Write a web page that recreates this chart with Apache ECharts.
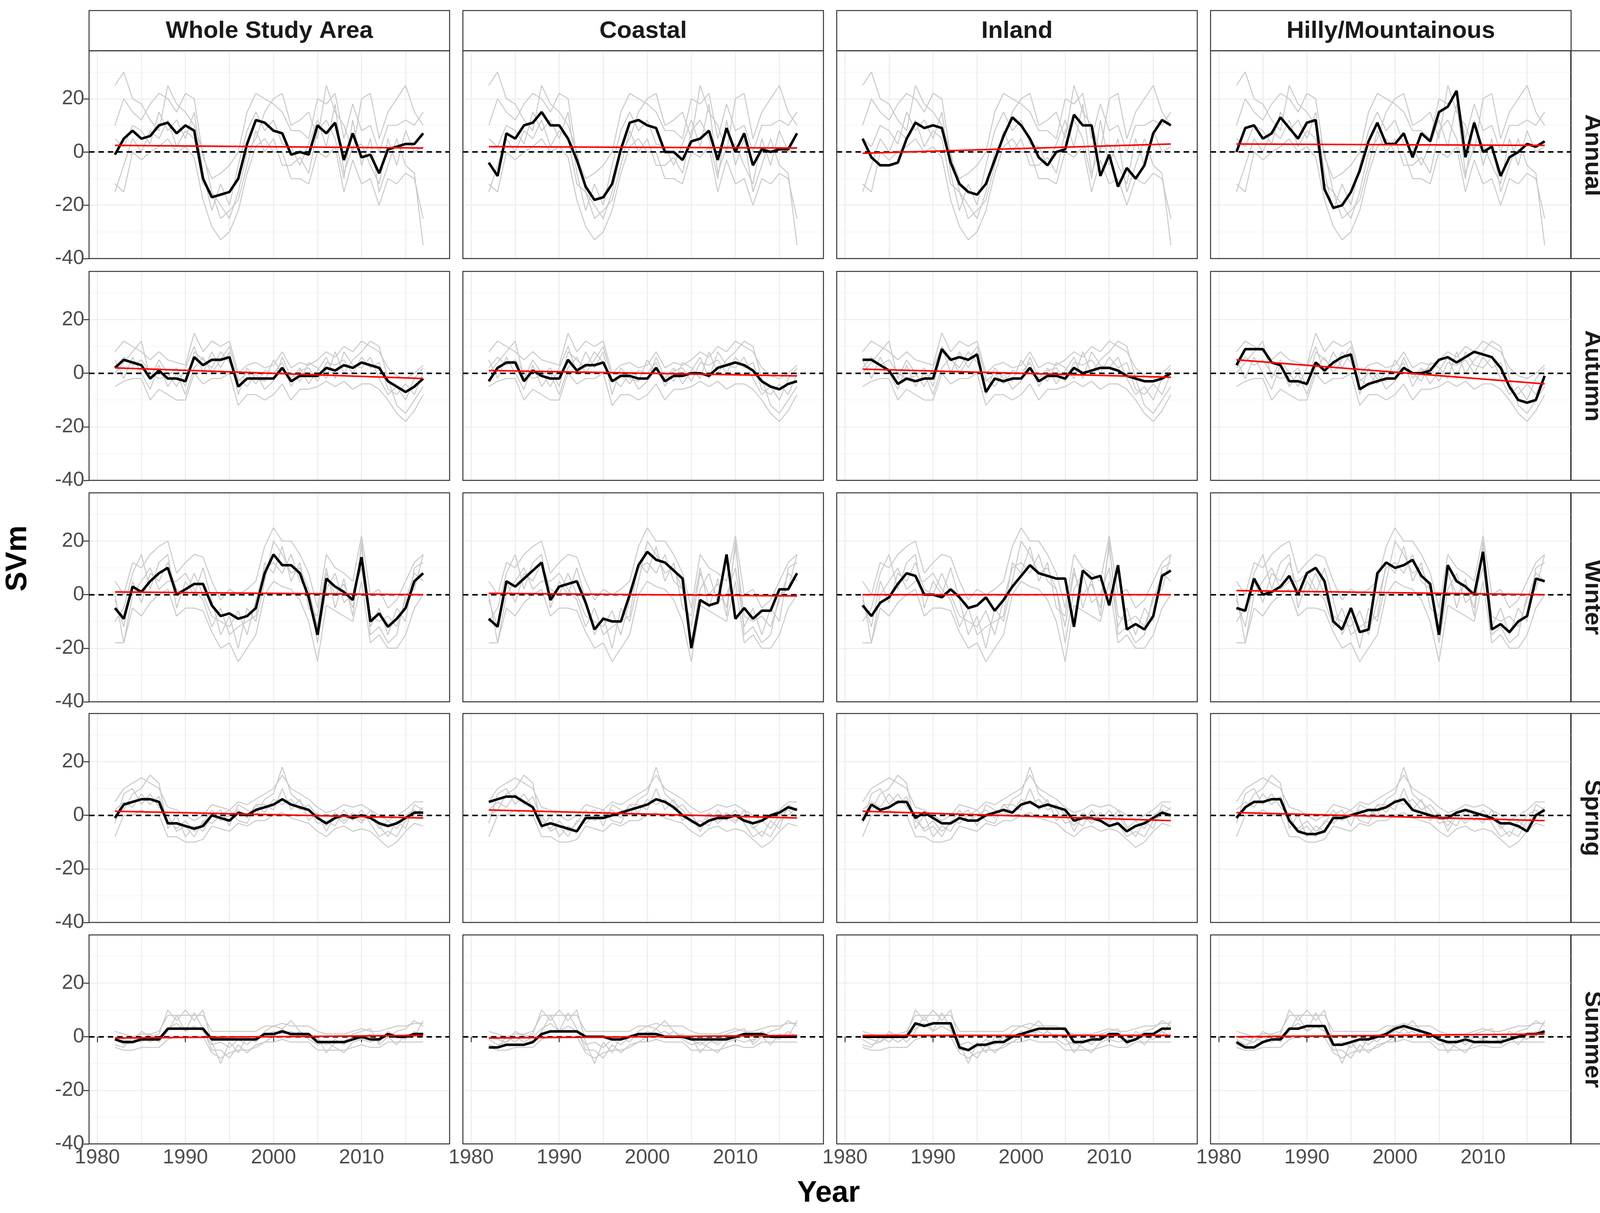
<!DOCTYPE html>
<html><head><meta charset="utf-8">
<script src="https://cdn.jsdelivr.net/npm/echarts@6/dist/echarts.min.js"></script>
<style>html,body{margin:0;padding:0;background:#fff}#c{width:4157px;height:3106px}</style>
</head><body><div id="c"></div>
<script>
const years=[];for(let y=1982;y<=2017;y++)years.push(y);
const columns=["Whole Study Area","Coastal","Inland","Hilly/Mountainous"];
const seasons=["Annual","Autumn","Winter","Spring","Summer"];
const yTicks=[-40,-20,0,20];
const xTicks=[1980,1990,2000,2010];
const xMinor=[1985,1995,2005,2015];
const meanAnnual=[
[-1,5,8,5,6,10,11,7,10,8,-10,-17,-16,-15,-10,3,12,11,8,7,-1,0,-1,10,7,11,-3,7,-2,-1,-8,1,2,3,3,7],
[-4,-9,7,5,10,11,15,10,10,5,-3,-13,-18,-17,-12,1,11,12,10,9,0,0,-3,4,5,8,-3,9,0,7,-5,1,0,1,1,7],
[5,-2,-5,-5,-4,5,11,9,10,9,-4,-12,-15,-16,-12,-3,6,13,10,5,-2,-5,0,1,14,10,10,-9,-1,-13,-6,-10,-5,7,12,10],
[0,9,10,5,7,13,9,5,11,12,-14,-21,-20,-15,-7,4,11,3,3,7,-2,7,4,15,17,23,-2,11,0,2,-9,-2,0,3,2,4]];
const meanAutumn=[
[2,5,4,3,-2,1,-2,-2,-3,6,3,5,5,6,-5,-2,-2,-2,-2,2,-3,-1,-1,-1,2,1,3,2,4,3,2,-3,-5,-7,-5,-2],
[-3,2,4,4,-3,1,-1,-2,-2,5,1,3,3,4,-3,-1,-1,-2,-2,2,-3,-1,-1,0,0,-1,2,3,4,3,1,-3,-5,-6,-4,-3],
[5,5,3,1,-4,-2,-3,-2,-2,9,5,6,5,7,-7,-2,-3,-2,-2,2,-3,-1,-1,-2,2,0,1,2,2,1,-1,-2,-3,-3,-2,0],
[3,9,9,9,4,3,-3,-3,-4,4,1,4,6,7,-6,-4,-3,-2,-2,2,0,0,1,5,6,4,6,8,7,6,2,-5,-10,-11,-10,-1]];
const meanWinter=[
[-5,-9,3,1,5,8,10,0,2,4,4,-4,-8,-7,-9,-8,-5,8,15,11,11,8,-1,-15,6,3,1,-2,14,-10,-7,-12,-9,-5,5,8],
[-9,-12,5,3,6,9,12,-2,3,4,5,-3,-13,-9,-10,-10,0,11,16,13,12,9,6,-20,-2,-4,-3,15,-9,-5,-9,-6,-6,2,2,8],
[-4,-8,-3,-1,4,8,7,0,0,-1,2,-1,-5,-4,-1,-6,-2,3,7,11,8,7,6,6,-12,9,6,7,-4,11,-13,-11,-13,-8,7,9],
[-5,-6,6,0,1,3,7,0,8,10,5,-10,-13,-5,-14,-13,8,12,10,11,13,7,4,-15,11,5,3,0,16,-13,-11,-14,-10,-8,6,5]];
const meanSpring=[
[-1,4,5,6,6,5,-3,-3,-4,-5,-4,0,-1,-2,1,0,2,3,4,6,4,3,2,-1,-3,-1,0,-1,0,-1,-3,-4,-3,-1,1,1],
[5,6,7,7,5,3,-4,-3,-4,-5,-6,-1,-1,-1,0,1,2,3,4,6,5,3,0,-2,-4,-2,-1,-1,0,-2,-3,-2,0,1,3,2],
[-2,4,2,3,5,5,-1,1,-1,-3,-3,-1,-2,-2,0,1,2,1,4,5,3,4,3,2,-2,-1,-1,-2,-4,-3,-6,-4,-3,-1,1,0],
[-1,3,5,5,6,6,-2,-6,-7,-7,-6,-1,-1,0,1,2,2,3,5,6,2,1,0,-1,-1,1,2,1,0,-1,-3,-3,-4,-6,0,2]];
const meanSummer=[
[-1,-2,-2,-1,-1,-1,3,3,3,3,3,-1,-1,-1,-1,-1,-1,1,1,2,1,1,1,-2,-2,-2,-2,-1,0,-1,-1,1,0,0,1,1],
[-4,-4,-3,-3,-3,-2,1,2,2,2,2,0,0,0,-1,-1,0,1,1,1,0,0,0,-1,-1,-1,-1,-1,0,1,1,1,0,0,0,0],
[0,0,0,0,0,0,5,4,5,5,5,-4,-5,-3,-3,-2,-2,0,1,2,3,3,3,3,-2,-2,-1,-1,1,1,-2,-1,1,1,3,3],
[-2,-4,-4,-2,-1,-1,3,3,4,4,4,-3,-3,-2,-1,-1,0,1,3,4,3,2,1,-1,-2,-2,-1,-2,-2,-2,-2,-1,0,1,1,2]];
const means=[meanAnnual,meanAutumn,meanWinter,meanSpring,meanSummer];
const trendStart=[[2.5,2,-0.5,3],[2,1,1.5,5],[1,0.5,0,1.5],[1.5,2,1.5,1],[-0.5,-0.5,0.5,0]];
const trendEnd=[[1.5,1.5,3,2.5],[-2,-1,-1.5,-4],[0,-0.5,0,0],[-1,-1,-2,-2],[0.5,0.5,0.5,1]];
const greyAnnual=[
[10,20,15,12,18,22,20,15,22,20,-2,-10,-8,-5,0,15,22,20,18,15,8,8,5,20,18,22,5,18,8,10,0,10,10,12,10,15],
[-12,-15,0,-3,0,2,5,0,2,-2,-18,-28,-33,-30,-22,-8,2,5,0,0,-10,-10,-12,0,-2,2,-15,-3,-12,-10,-20,-10,-12,-8,-10,-25],
[5,2,10,8,3,15,8,12,5,15,-8,-22,-12,-20,-5,8,15,8,12,3,2,-5,3,12,2,18,-8,2,3,-5,-12,5,-5,8,0,2],
[25,30,20,18,12,8,25,18,15,10,0,-15,-20,-25,-15,0,5,15,20,22,10,12,15,5,25,15,10,0,20,22,5,15,20,25,15,10],
[-15,-5,5,0,8,5,12,2,8,5,-12,-15,-25,-22,-18,-5,8,0,5,-5,-5,-2,-8,8,12,5,-10,12,-5,5,-15,-5,5,-5,-8,-35]];
const greyAutumn=[
[8,12,10,8,5,8,5,4,3,15,8,12,10,12,0,3,4,2,3,8,2,4,3,5,8,6,10,8,12,10,8,2,-1,-2,0,3],
[-5,-3,-2,-2,-10,-6,-8,-10,-10,0,-4,-2,-2,0,-12,-8,-8,-10,-8,-4,-10,-6,-6,-5,-3,-5,-3,-6,-4,-4,-6,-10,-15,-18,-14,-8],
[2,6,3,5,0,-2,-1,2,-5,8,5,2,8,4,-3,0,-4,1,0,4,-5,1,2,-3,4,3,5,0,6,2,4,-6,-8,-4,-8,0],
[0,4,8,12,-2,5,0,-5,2,10,0,8,2,8,-8,2,-2,-3,5,0,0,-3,4,2,-2,8,0,5,8,12,10,-2,-12,-15,-10,-5],
[5,-2,6,0,-6,3,-5,0,-8,2,6,0,5,10,-2,-5,0,-6,-3,6,-2,2,-4,1,6,-2,8,3,2,6,-2,-8,-5,-10,-2,2]];
const greyWinter=[
[5,0,12,10,15,18,20,8,12,15,14,5,-2,2,0,2,5,18,25,20,20,15,8,-5,15,10,8,5,22,0,2,-5,-2,5,12,15],
[-18,-18,-5,-8,-3,0,2,-8,-5,-5,-6,-14,-20,-18,-25,-20,-15,0,5,3,2,-2,-10,-25,-4,-6,-8,-10,5,-18,-15,-20,-20,-15,-5,0],
[-2,-12,5,-3,8,5,12,2,0,8,0,-8,-10,-12,-6,-15,-2,10,12,8,15,5,2,-12,8,0,4,-5,18,-8,-10,-8,-12,-2,8,5],
[-10,-5,8,15,2,12,15,-5,5,0,10,-2,-15,-8,-20,-5,-10,5,20,15,8,10,2,-18,2,8,-3,0,10,-12,-5,-15,-5,-10,10,12],
[0,-18,0,5,10,2,5,5,8,2,-2,-12,-5,-15,-12,-10,-8,12,8,18,5,12,-5,-8,10,-5,6,-8,20,-15,-12,-18,-15,0,2,15]];
const greySpring=[
[5,10,12,14,12,10,3,2,0,-2,0,4,3,2,5,4,6,8,10,15,10,8,6,3,1,2,4,3,4,2,0,-2,0,2,5,5],
[-8,0,0,2,0,0,-8,-8,-10,-10,-9,-4,-5,-6,-3,-4,-2,-2,0,1,-1,-2,-3,-6,-8,-5,-4,-6,-5,-6,-9,-12,-10,-6,-3,-4],
[2,5,3,8,4,7,-2,-5,-2,-6,-3,2,-2,0,2,-1,4,1,6,4,6,2,4,0,-4,1,-2,1,-2,0,-5,-2,-5,0,2,-1],
[0,2,8,10,15,12,-5,0,-8,-4,-6,0,2,-4,4,2,0,6,8,18,8,5,2,-3,-2,-4,2,-2,2,-3,-8,-6,-8,-2,0,3],
[-3,8,10,4,8,3,0,-6,-4,-8,-2,-3,0,2,-2,-3,4,4,2,10,2,6,-2,1,-6,0,-3,0,-3,2,-4,-8,-2,-5,4,2]];
const greySummer=[
[2,1,0,1,1,2,8,8,8,8,8,2,2,2,2,2,2,4,4,5,4,4,4,2,1,1,1,2,3,2,2,3,4,4,5,5],
[-4,-5,-5,-4,-4,-4,-1,0,0,0,0,-6,-8,-6,-5,-5,-4,-2,-2,-1,-2,-2,-2,-5,-5,-5,-5,-4,-3,-4,-4,-2,-2,-2,-2,-2],
[-1,-3,-2,0,-2,0,3,5,2,4,2,-3,-2,-4,-1,-3,0,0,2,1,2,0,1,-1,-3,-1,-3,0,-1,1,-2,2,0,-1,2,0],
[0,-1,-2,2,0,1,10,6,10,6,10,-2,-10,-2,-6,0,-2,2,4,3,6,2,0,0,-6,-2,-2,1,2,3,-3,0,2,3,6,4],
[-3,-4,0,-2,1,-2,2,8,2,9,3,-5,-5,-8,-3,-6,-3,-2,0,3,0,2,-1,-3,-2,-4,-6,-2,-1,-2,-1,0,-3,1,0,6]];
const greys=[greyAnnual,greyAutumn,greyWinter,greySpring,greySummer];

const colL=[228,1185,2142,3099], W=923;
const rowT=[130,695,1262,1827,2394], H=535;
const grid=[],xAxis=[],yAxis=[],series=[],graphic=[];
const pair=a=>a.map((v,i)=>[years[i],v]);
const FONT='"Liberation Sans", Arial, sans-serif';
for(let r=0;r<5;r++)for(let c=0;c<4;c++){
  const g=grid.length;
  const top=rowT[r], h=(r===0?H-3:H);
  grid.push({left:colL[c],top:top,width:W,height:h,show:false});
  const bottom=r===4,left=c===0;
  xAxis.push({type:'value',gridIndex:g,min:1979.06,max:2020.0,
    axisLine:{show:false},axisTick:{show:bottom,customValues:xTicks,length:14,lineStyle:{color:'#333',width:2.5}},
    axisLabel:{show:bottom,customValues:xTicks,formatter:v=>String(v),fontSize:52,color:'#4d4d4d',margin:10,fontFamily:FONT},
    splitLine:{show:false}});
  xAxis.push({type:'value',gridIndex:g,min:1979.06,max:2020.0,show:true,
    axisLine:{show:false},axisTick:{show:false,customValues:xTicks.concat(xMinor)},axisLabel:{show:false,customValues:xTicks.concat(xMinor)},
    splitLine:{show:true,lineStyle:{color:'#ebebeb',width:2.5}}});
  yAxis.push({type:'value',gridIndex:g,min:-40,max:38,interval:20,
    axisLine:{show:false},axisTick:{show:left,length:14,lineStyle:{color:'#333',width:2.5}},
    axisLabel:{show:left,fontSize:52,color:'#4d4d4d',margin:12,showMaxLabel:false,fontFamily:FONT},
    splitLine:{show:true,showMaxLine:false,lineStyle:{color:'#ebebeb',width:3}}});
  yAxis.push({type:'value',gridIndex:g,min:-40,max:38,interval:10,show:true,
    axisLine:{show:false},axisTick:{show:false},axisLabel:{show:false},
    splitLine:{show:true,showMaxLine:false,lineStyle:{color:'#f3f3f3',width:1.5}}});
  const xi=2*g,yi=2*g;
  greys[r].forEach(gl=>series.push({type:'line',xAxisIndex:xi,yAxisIndex:yi,data:pair(gl),symbol:'none',silent:true,
    lineStyle:{color:'#c8c8c8',width:2.5},z:2}));
  series.push({type:'line',xAxisIndex:xi,yAxisIndex:yi,data:pair(means[r][c]),symbol:'none',lineStyle:{color:'#000',width:6.5},z:4});
  series.push({type:'line',xAxisIndex:xi,yAxisIndex:yi,data:[[1982,trendStart[r][c]],[2017,trendEnd[r][c]]],symbol:'none',
    lineStyle:{color:'#ff0000',width:4},z:5,
    markLine:{silent:true,symbol:'none',label:{show:false},lineStyle:{color:'#000',type:[14,10],width:4},data:[{yAxis:0}]}});
  graphic.push({type:'rect',z:100,shape:{x:colL[c],y:top,width:W,height:h},style:{fill:'none',stroke:'#333',lineWidth:2.5}});
}
columns.forEach((t,c)=>{
  graphic.push({type:'rect',shape:{x:colL[c],y:27,width:W,height:103},style:{fill:'#fff',stroke:'#333',lineWidth:2.5}});
  graphic.push({type:'text',x:colL[c]+W/2,y:80,style:{text:t,fill:'#1a1a1a',font:'bold 62px '+FONT,align:'center',verticalAlign:'middle'}});
});
seasons.forEach((t,r)=>{
  graphic.push({type:'rect',shape:{x:4021,y:rowT[r],width:106,height:(r===0?H-3:H)},style:{fill:'#fff',stroke:'#333',lineWidth:2.5}});
  graphic.push({type:'text',x:4076,y:rowT[r]+H/2,rotation:-Math.PI/2,style:{text:t,fill:'#1a1a1a',font:'bold 62px '+FONT,align:'center',verticalAlign:'middle'}});
});
graphic.push({type:'text',x:46,y:1430,rotation:Math.PI/2,style:{text:'SVm',fill:'#000',font:'bold 76px '+FONT,align:'center',verticalAlign:'middle'}});
graphic.push({type:'text',x:2121,y:3056,style:{text:'Year',fill:'#000',font:'bold 76px '+FONT,align:'center',verticalAlign:'middle'}});
const chart=echarts.init(document.getElementById('c'),null,{renderer:'canvas'});
chart.setOption({animation:false,backgroundColor:'#fff',grid,xAxis,yAxis,series,graphic});
</script></body></html>
